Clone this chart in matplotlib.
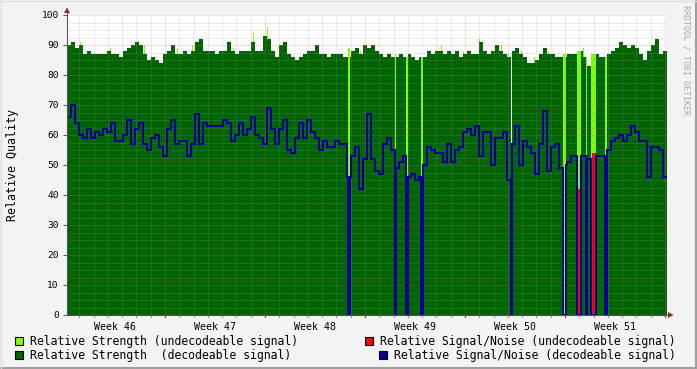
import numpy as np
import matplotlib
matplotlib.use('Agg')
import matplotlib.pyplot as plt
from matplotlib.patches import Rectangle, Polygon
from matplotlib.lines import Line2D

W, H = 697, 369
FONT = 'DejaVu Sans Mono'

# --- data (one value per 0.04 week, starting at week 46.02)
strength = [90, 91, 89, 90, 87, 88, 87, 87, 87, 87, 88, 87, 87, 86, 88, 89, 90, 91, 90, 87,
            85, 86, 85, 84, 87, 88, 90, 87, 87, 88, 87, 88, 91, 92, 88, 88, 88, 87, 88, 88,
            91, 88, 87, 88, 88, 88, 91, 88, 88, 93, 92, 88, 86, 90, 91, 87, 86, 85, 86, 87,
            88, 88, 90, 87, 87, 86, 87, 87, 87, 86, 86, 88, 89, 87, 90, 89, 90, 88, 87, 86,
            87, 86, 86, 87, 86, 87, 86, 85, 86, 86, 88, 87, 88, 88, 87, 88, 87, 88, 86, 87,
            88, 87, 87, 91, 88, 87, 88, 90, 88, 87, 86, 88, 89, 87, 86, 84, 84, 85, 87, 89,
            87, 87, 86, 86, 86, 87, 87, 87, 88, 86, 83, 85, 87, 86, 86, 87, 88, 89, 91, 90,
            89, 90, 89, 87, 85, 88, 90, 92, 87, 88]
snr = [66, 70, 64, 60, 59, 62, 59, 61, 60, 62, 61, 64, 58, 58, 60, 65, 57, 62, 64, 57,
       55, 59, 60, 56, 53, 62, 65, 57, 58, 58, 53, 57, 67, 57, 64, 63, 63, 63, 63, 65,
       64, 58, 60, 64, 60, 62, 66, 60, 59, 57, 69, 62, 57, 62, 65, 55, 54, 59, 64, 59,
       65, 61, 59, 55, 58, 56, 56, 58, 57, 57, 46, 53, 56, 42, 52, 67, 52, 48, 47, 57,
       59, 55, 49, 51, 53, 46, 47, 45, 46, 50, 56, 55, 54, 54, 51, 57, 51, 55, 56, 61,
       62, 60, 63, 53, 61, 61, 50, 59, 59, 61, 45, 57, 63, 50, 58, 56, 54, 47, 57, 68,
       48, 56, 57, 49, 50, 51, 53, 53, 53, 53, 52, 53, 53, 53, 53, 55, 58, 59, 60, 58,
       60, 63, 61, 58, 58, 46, 56, 56, 55, 46]

# undecodeable periods (start week, duration in weeks, strength, signal/noise)
undec_start = [48.83, 49.30, 49.41, 49.56, 50.98, 51.12, 51.21, 51.26, 51.27, 51.40]
undec_len = [0.02, 0.01, 0.02, 0.02, 0.03, 0.04, 0.01, 0.01, 0.04, 0.02]
undec_strength = [89, 87, 86, 86, 87, 88, 86, 87, 87, 86]
undec_snr = [45, 46, 46, 43, 0, 42, 44, 42, 54, 0]

# short undecodeable moments inside decodeable samples (week, strength)
tip_week = [46.15, 46.45, 46.79, 47.12, 47.27, 47.68, 47.88, 48.02, 48.25, 48.95,
            49.76, 49.98, 50.14, 50.36, 50.43, 50.56, 50.69, 50.83, 51.18, 51.55]
tip_strength = [91, 89, 90, 89, 90, 89, 94, 96, 86, 88,
                90, 88, 92, 90, 87, 88, 86, 88, 89, 91]

# missing data
gap_week = [50.46]

weeks = ['Week 46', 'Week 47', 'Week 48', 'Week 49', 'Week 50', 'Week 51']

# --- build per-pixel series
t0, dt, n = 46.02, 0.01, 600
edges = t0 + np.arange(n + 1) * dt
dark = np.repeat(np.array(strength, float), 4)
blue = np.repeat(np.array(snr, float), 4)
light = np.full(n, np.nan)
red = np.full(n, np.nan)


def col(w):
    return int(round((w - t0) / dt))


for w, s in zip(tip_week, tip_strength):
    light[col(w)] = s
for w, d, s, r in zip(undec_start, undec_len, undec_strength, undec_snr):
    i0, k = col(w), int(round(d / dt))
    dark[i0:i0 + k] = np.nan
    blue[i0:i0 + k] = 0
    light[i0:i0 + k] = s
    if r > 0:
        red[i0:i0 + k] = r
for w in gap_week:
    dark[col(w)] = np.nan
    blue[col(w)] = 0

c_light, c_dark, c_red, c_blue = '#80FF00', '#006400', '#FF0000', '#000096'

fig = plt.figure(figsize=(W / 100, H / 100), dpi=100)
fig.patch.set_facecolor('#F3F3F3')


def fx(x):
    return x / W


def fy(y):
    return 1 - y / H


ax = fig.add_axes([fx(67), fy(315), 600 / W, 300 / H])
ax.set_facecolor('white')
ax.set_xlim(t0, t0 + n * dt)
ax.set_ylim(0, 100)

ax.stairs(light, edges, fill=True, color=c_light, lw=0, zorder=1)
ax.stairs(dark, edges, fill=True, color=c_dark, lw=0, zorder=2)
ax.stairs(red, edges, fill=True, color=c_red, lw=0, zorder=6)
ax.stairs(blue, edges, baseline=None, color=c_blue, lw=0.75, zorder=7,
          antialiased=False)

# grid
minor_c = (0.6, 0.6, 0.6, 0.38)
major_c = (0.95, 0.4, 0.4, 0.45)
for v in np.arange(2.5, 100.1, 2.5):
    ax.axhline(v, color=major_c if v % 10 == 0 else minor_c, lw=0.72,
               ls=(0, (1, 1)), zorder=5)
for k in range(0, 43):
    d = 46 + k / 7
    if t0 < d < t0 + n * dt:
        ax.axvline(d, color=major_c if k % 7 == 0 else minor_c, lw=0.72,
                   ls=(0, (1, 1)), zorder=5)

for s in ax.spines.values():
    s.set_visible(False)

ax.set_yticks(np.arange(0, 101, 10))
ax.set_yticklabels([str(v) for v in range(0, 101, 10)], fontfamily=FONT, fontsize=6.8)
ax.tick_params(axis='y', length=3, width=0.7, color='#555555', pad=3)
ax.set_xticks(np.arange(46.5, 52, 1))
ax.set_xticklabels(weeks, fontfamily=FONT, fontsize=7.1)
ax.tick_params(axis='x', length=0, pad=5)

# x tick marks (days gray, weeks red)
for k in range(0, 43):
    d = 46 + k / 7
    if t0 <= d <= t0 + n * dt:
        ax.plot([d, d], [0, -0.8], color='#993333' if k % 7 == 0 else '#999999',
                lw=0.8, clip_on=False, zorder=8)

ax.set_ylabel('Relative Quality', fontfamily=FONT, fontsize=8.4)
ax.yaxis.label.set_va('center')
ax.yaxis.set_label_coords(-(67 - 12) / 600, 0.5)

# axes lines with arrows
axc = '#555555'
fig.add_artist(Line2D([fx(67), fx(67)], [fy(315), fy(12)], color=axc, lw=0.8))
fig.add_artist(Line2D([fx(67), fx(669)], [fy(315), fy(315)], color=axc, lw=0.8))
arr_c = '#992222'
fig.add_artist(Polygon([[fx(64), fy(13)], [fx(70), fy(13)], [fx(67), fy(7.5)]],
                       closed=True, color=arr_c, lw=0))
fig.add_artist(Polygon([[fx(668), fy(312)], [fx(668), fy(318)], [fx(673.5), fy(315)]],
                       closed=True, color=arr_c, lw=0))

# watermark
fig.text(fx(686), fy(5), 'RRDTOOL / TOBI OETIKER', rotation=-90, ha='center', va='top',
         fontfamily=FONT, fontsize=6, color='#A8A8A8')

# legend
def legend_item(x, y, color, label):
    fig.add_artist(Rectangle((fx(x), fy(y + 4)), 8 / W, 8 / H, facecolor=color,
                             edgecolor='black', lw=0.8))
    fig.text(fx(x + 15), fy(y + 0.5), label, ha='left', va='center',
             fontfamily=FONT, fontsize=8.3, color='black')


legend_item(15, 341, c_light, 'Relative Strength (undecodeable signal)')
legend_item(15, 355, c_dark, 'Relative Strength  (decodeable signal)')
legend_item(365, 341, c_red, 'Relative Signal/Noise (undecodeable signal)')
legend_item(379, 355, c_blue, 'Relative Signal/Noise (decodeable signal)')

# frame
fig.add_artist(Line2D([0, 1], [fy(368), fy(368)], color='#9E9E9E', lw=1.5))
fig.add_artist(Line2D([fx(696), fx(696)], [0, 1], color='#9E9E9E', lw=1.5))
fig.add_artist(Line2D([0, 1], [fy(0.5), fy(0.5)], color='#DDDDDD', lw=1.0))
fig.add_artist(Line2D([fx(0.5), fx(0.5)], [0, 1], color='#DDDDDD', lw=1.0))

fig.savefig('out.png', dpi=100, facecolor=fig.get_facecolor())
